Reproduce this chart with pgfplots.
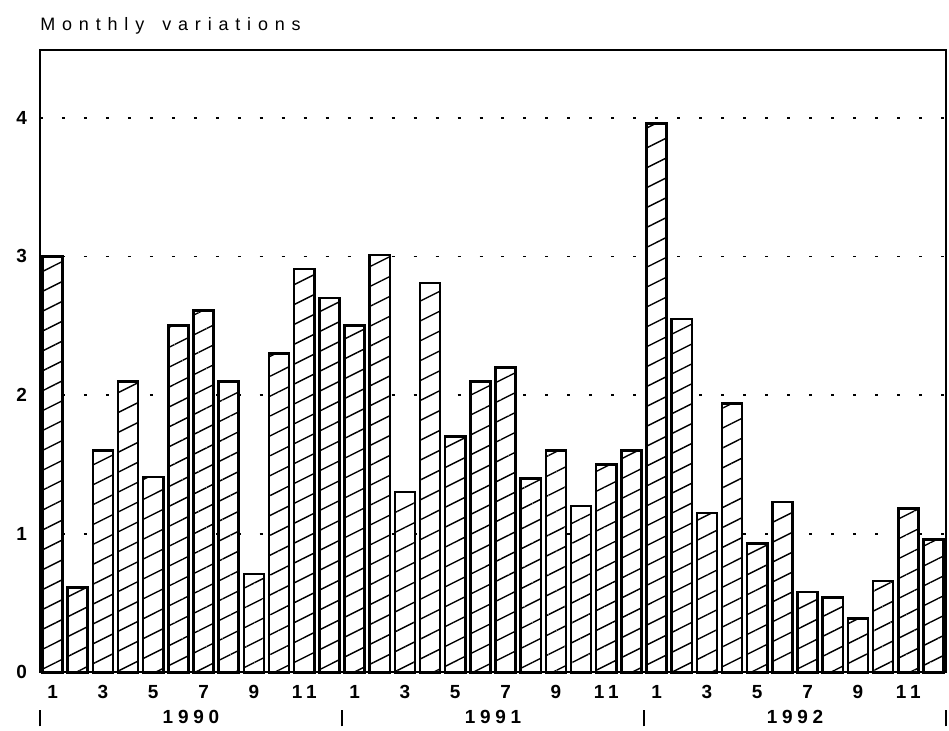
\documentclass[border=0pt]{standalone}
\usepackage{pgfplots}
\pgfplotsset{compat=1.18}
\usetikzlibrary{patterns.meta}
\usepackage{fontspec}
\setmainfont{Liberation Sans}
\newfontfamily\titlefont[LetterSpace=38]{Liberation Sans}
\newfontfamily\tickfont[LetterSpace=25]{Liberation Sans Bold}
\begin{document}
\begin{tikzpicture}
\begin{axis}[
  scale only axis,
  width=453.5pt, height=311.5pt,
  xmin=0.5, xmax=36.5,
  ymin=0, ymax=4.49,
  ybar, bar width=0.8,
  ytick={0,1,2,3,4},
  yticklabel style={font=\tickfont\fontsize{9.5}{11}\selectfont, xshift=-3pt},
  /pgf/number format/assume math mode=true,
  xtick={1,3,...,35},
  xticklabels={1,3,5,7,9,11,1,3,5,7,9,11,1,3,5,7,9,11},
  xticklabel style={font=\tickfont\fontsize{9.5}{11}\selectfont, yshift=-3pt},
  extra x ticks={0.5,6.5,12.5,18.5,24.5,30.5,36.5},
  extra x tick labels={\rule{0.8pt}{8pt},1990,\rule{0.8pt}{8pt},1991,\rule{0.8pt}{8pt},1992,\rule{0.8pt}{8pt}},
  extra x tick style={grid=none, major tick length=0pt, tick label style={yshift=-12.5pt}},
  major tick length=0pt,
  ymajorgrids,
  grid style={black, line width=0.9pt, dash pattern=on 1.5pt off 9.5pt},
  axis line style={black, line width=1.2pt},
  clip=false,
]
\addplot[draw=black, line width=1.3pt, fill=white,
  postaction={pattern={Lines[angle=26.6,distance=8.9pt,line width=0.7pt]}}]
  table[x=m,y=v]{
m v
1 3.00
2 0.61
3 1.60
4 2.10
5 1.41
6 2.50
7 2.61
8 2.10
9 0.71
10 2.30
11 2.91
12 2.70
13 2.50
14 3.01
15 1.30
16 2.81
17 1.70
18 2.10
19 2.20
20 1.40
21 1.60
22 1.20
23 1.50
24 1.60
25 3.96
26 2.55
27 1.15
28 1.94
29 0.93
30 1.23
31 0.58
32 0.54
33 0.39
34 0.66
35 1.18
36 0.96
};
\node[anchor=base west, inner sep=0pt, font=\titlefont\fontsize{9}{10}\selectfont] at ([yshift=9.5pt]rel axis cs:0,1) {Monthly\hspace{9pt}variations};
\end{axis}
\pgfresetboundingbox
\path ([shift={(-20pt,-29pt)}]current axis.south west) rectangle ([shift={(1.5pt,25pt)}]current axis.north east);
\end{tikzpicture}
\end{document}
